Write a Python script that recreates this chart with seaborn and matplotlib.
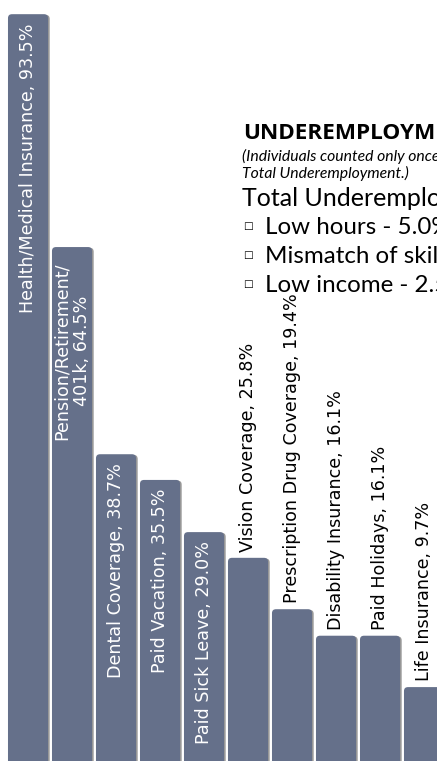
import matplotlib
matplotlib.use("Agg")
import matplotlib.pyplot as plt
import matplotlib.patheffects as pe
from matplotlib.patches import FancyBboxPatch
import seaborn as sns
import pandas as pd

# Benefit categories and share of respondents (%)
benefits = [
    "Health/Medical Insurance",
    "Pension/Retirement/\n401k",
    "Dental Coverage",
    "Paid Vacation",
    "Paid Sick Leave",
    "Vision Coverage",
    "Prescription Drug Coverage",
    "Disability Insurance",
    "Paid Holidays",
    "Life Insurance",
]
shares = [93.5, 64.5, 38.7, 35.5, 29.0, 25.8, 19.4, 16.1, 16.1, 9.7]
# first five labels sit inside the bar, the rest above it
inside = [True, True, True, True, True, False, False, False, False, False]

# text box overflowing from the slide on the right
side_title = "UNDEREMPLOYMENT"
side_note = ["(Individuals counted only once in", "Total Underemployment.)"]
side_total = "Total Underemployment"
side_bullets = ["Low hours - 5.0%", "Mismatch of skills", "Low income - 2.5%"]

df = pd.DataFrame({"benefit": benefits, "share": shares})

W, H = 437, 761
BAR = "#65708a"

sns.set_theme(style="white")
fig = plt.figure(figsize=(W / 100, H / 100), dpi=100)
ax = fig.add_axes([0, -4 / H, 1, 803 / H])

sns.barplot(data=df, x="benefit", y="share", color=BAR, saturation=1,
            width=0.91, ax=ax)
ax.set_xlim(-28 / 44, (W - 28) / 44)
ax.set_ylim(0, 100)
ax.axis("off")

# swap the plain rectangles for ones with rounded tops
aspect = (100 / 803) / (1 / 44)
for p in list(ax.patches):
    x, y, w, h = p.get_x(), p.get_y(), p.get_width(), p.get_height()
    p.remove()
    rb = FancyBboxPatch((x, y), w, h,
                        boxstyle="round,pad=0,rounding_size=0.09",
                        mutation_aspect=aspect, facecolor=BAR,
                        edgecolor="none", zorder=2)
    rb.set_path_effects([pe.SimplePatchShadow(offset=(1.2, -0.5),
                                              shadow_rgbFace="#333333",
                                              alpha=0.5),
                         pe.Normal()])
    ax.add_patch(rb)

px = 100 / 803  # data units per pixel
for i, (name, val, ins) in enumerate(zip(benefits, shares, inside)):
    label = f"{name}, {val:.1f}%"
    if ins:
        gap = 15 if "\n" in name else 9
        ax.text(i, val - gap * px, label, rotation=90, ha="center", va="top",
                ma="center", color="white", fontsize=12.6,
                family="DejaVu Sans", linespacing=1.12, zorder=3)
    else:
        ax.text(i, val + 6 * px, label, rotation=90, ha="center",
                va="bottom", color="black", fontsize=12.6,
                family="DejaVu Sans", zorder=3)

# overflowing text box
def fx(x):
    return x / W

def fy(y):
    return 1 - y / H

fig.text(fx(243), fy(139), side_title, fontsize=16.2, weight="bold",
         family="Open Sans", color="black", va="baseline")
fig.text(fx(242), fy(161), side_note[0], fontsize=11.3, style="italic",
         family="Lato", color="black", va="baseline")
fig.text(fx(242), fy(178), side_note[1], fontsize=11.3, style="italic",
         family="Lato", color="black", va="baseline")
fig.text(fx(242), fy(206), side_total, fontsize=18, family="Lato",
         color="black", va="baseline")
for k, b in enumerate(side_bullets):
    base = 234 + 29 * k
    fig.text(fx(243), fy(base - 8), "\u25a1", fontsize=7.5,
             family="DejaVu Sans", color="black", va="center")
    fig.text(fx(265), fy(base), b, fontsize=17.4, family="Lato",
             color="black", va="baseline")

fig.savefig("out.png", dpi=100)
